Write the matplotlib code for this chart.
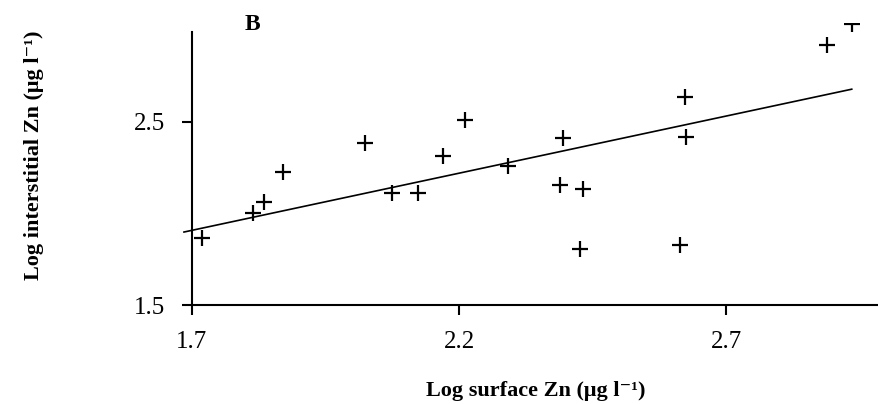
import matplotlib
matplotlib.use('Agg')
import matplotlib.pyplot as plt

plt.rcParams['font.family'] = ['Liberation Serif', 'DejaVu Serif']

# log surface Zn vs log interstitial Zn
surface_zn = [1.718, 1.815, 1.835, 1.870, 2.024, 2.074, 2.124, 2.169, 2.211, 2.292,
              2.395, 2.388, 2.432, 2.427, 2.623, 2.625, 2.614, 2.889, 2.935]
interstitial_zn = [1.864, 2.000, 2.064, 2.227, 2.385, 2.113, 2.113, 2.313, 2.509, 2.260,
                   2.409, 2.155, 2.133, 1.804, 2.636, 2.415, 1.827, 2.918, 3.033]

# regression line end points
fit_x = [1.685, 2.935]
fit_y = [1.898, 2.677]

x_ticks = [1.7, 2.2, 2.7]
y_ticks = [1.5, 2.5]

fig = plt.figure(figsize=(8.79, 4.04), dpi=100)
ax = fig.add_axes([0.2184, 0.245, 0.7816, 0.699])

ax.plot(surface_zn, interstitial_zn, linestyle='none', marker='+', color='black',
        markersize=11, markeredgewidth=1.6)
ax.plot(fit_x, fit_y, color='black', linewidth=1.2, clip_on=False)

ax.set_xlim(1.7, 2.986)
ax.set_ylim(1.5, 3.04)
ax.set_xticks(x_ticks)
ax.set_yticks(y_ticks)
ax.set_xticklabels(['1.7', '2.2', '2.7'])
ax.set_yticklabels(['1.5', '2.5'])

for s in ['top', 'right']:
    ax.spines[s].set_visible(False)
ax.spines['left'].set_bounds(1.5, 2.99)
ax.spines['left'].set_linewidth(1.5)
ax.spines['bottom'].set_linewidth(1.5)
ax.tick_params(direction='out', length=7, width=1.5, labelsize=18, pad=12)

ax.set_xlabel('Log surface Zn (μg l⁻¹)', fontsize=16, fontweight='bold', labelpad=20)
ax.set_ylabel('Log interstitial Zn (μg l⁻¹)', fontsize=16, fontweight='bold')
ax.yaxis.set_label_coords(-0.216, 0.531)

fig.text(252 / 879, 1 - 24 / 404, 'B', fontsize=17, fontweight='bold', ha='center', va='center')

plt.savefig('out.png', dpi=100)
